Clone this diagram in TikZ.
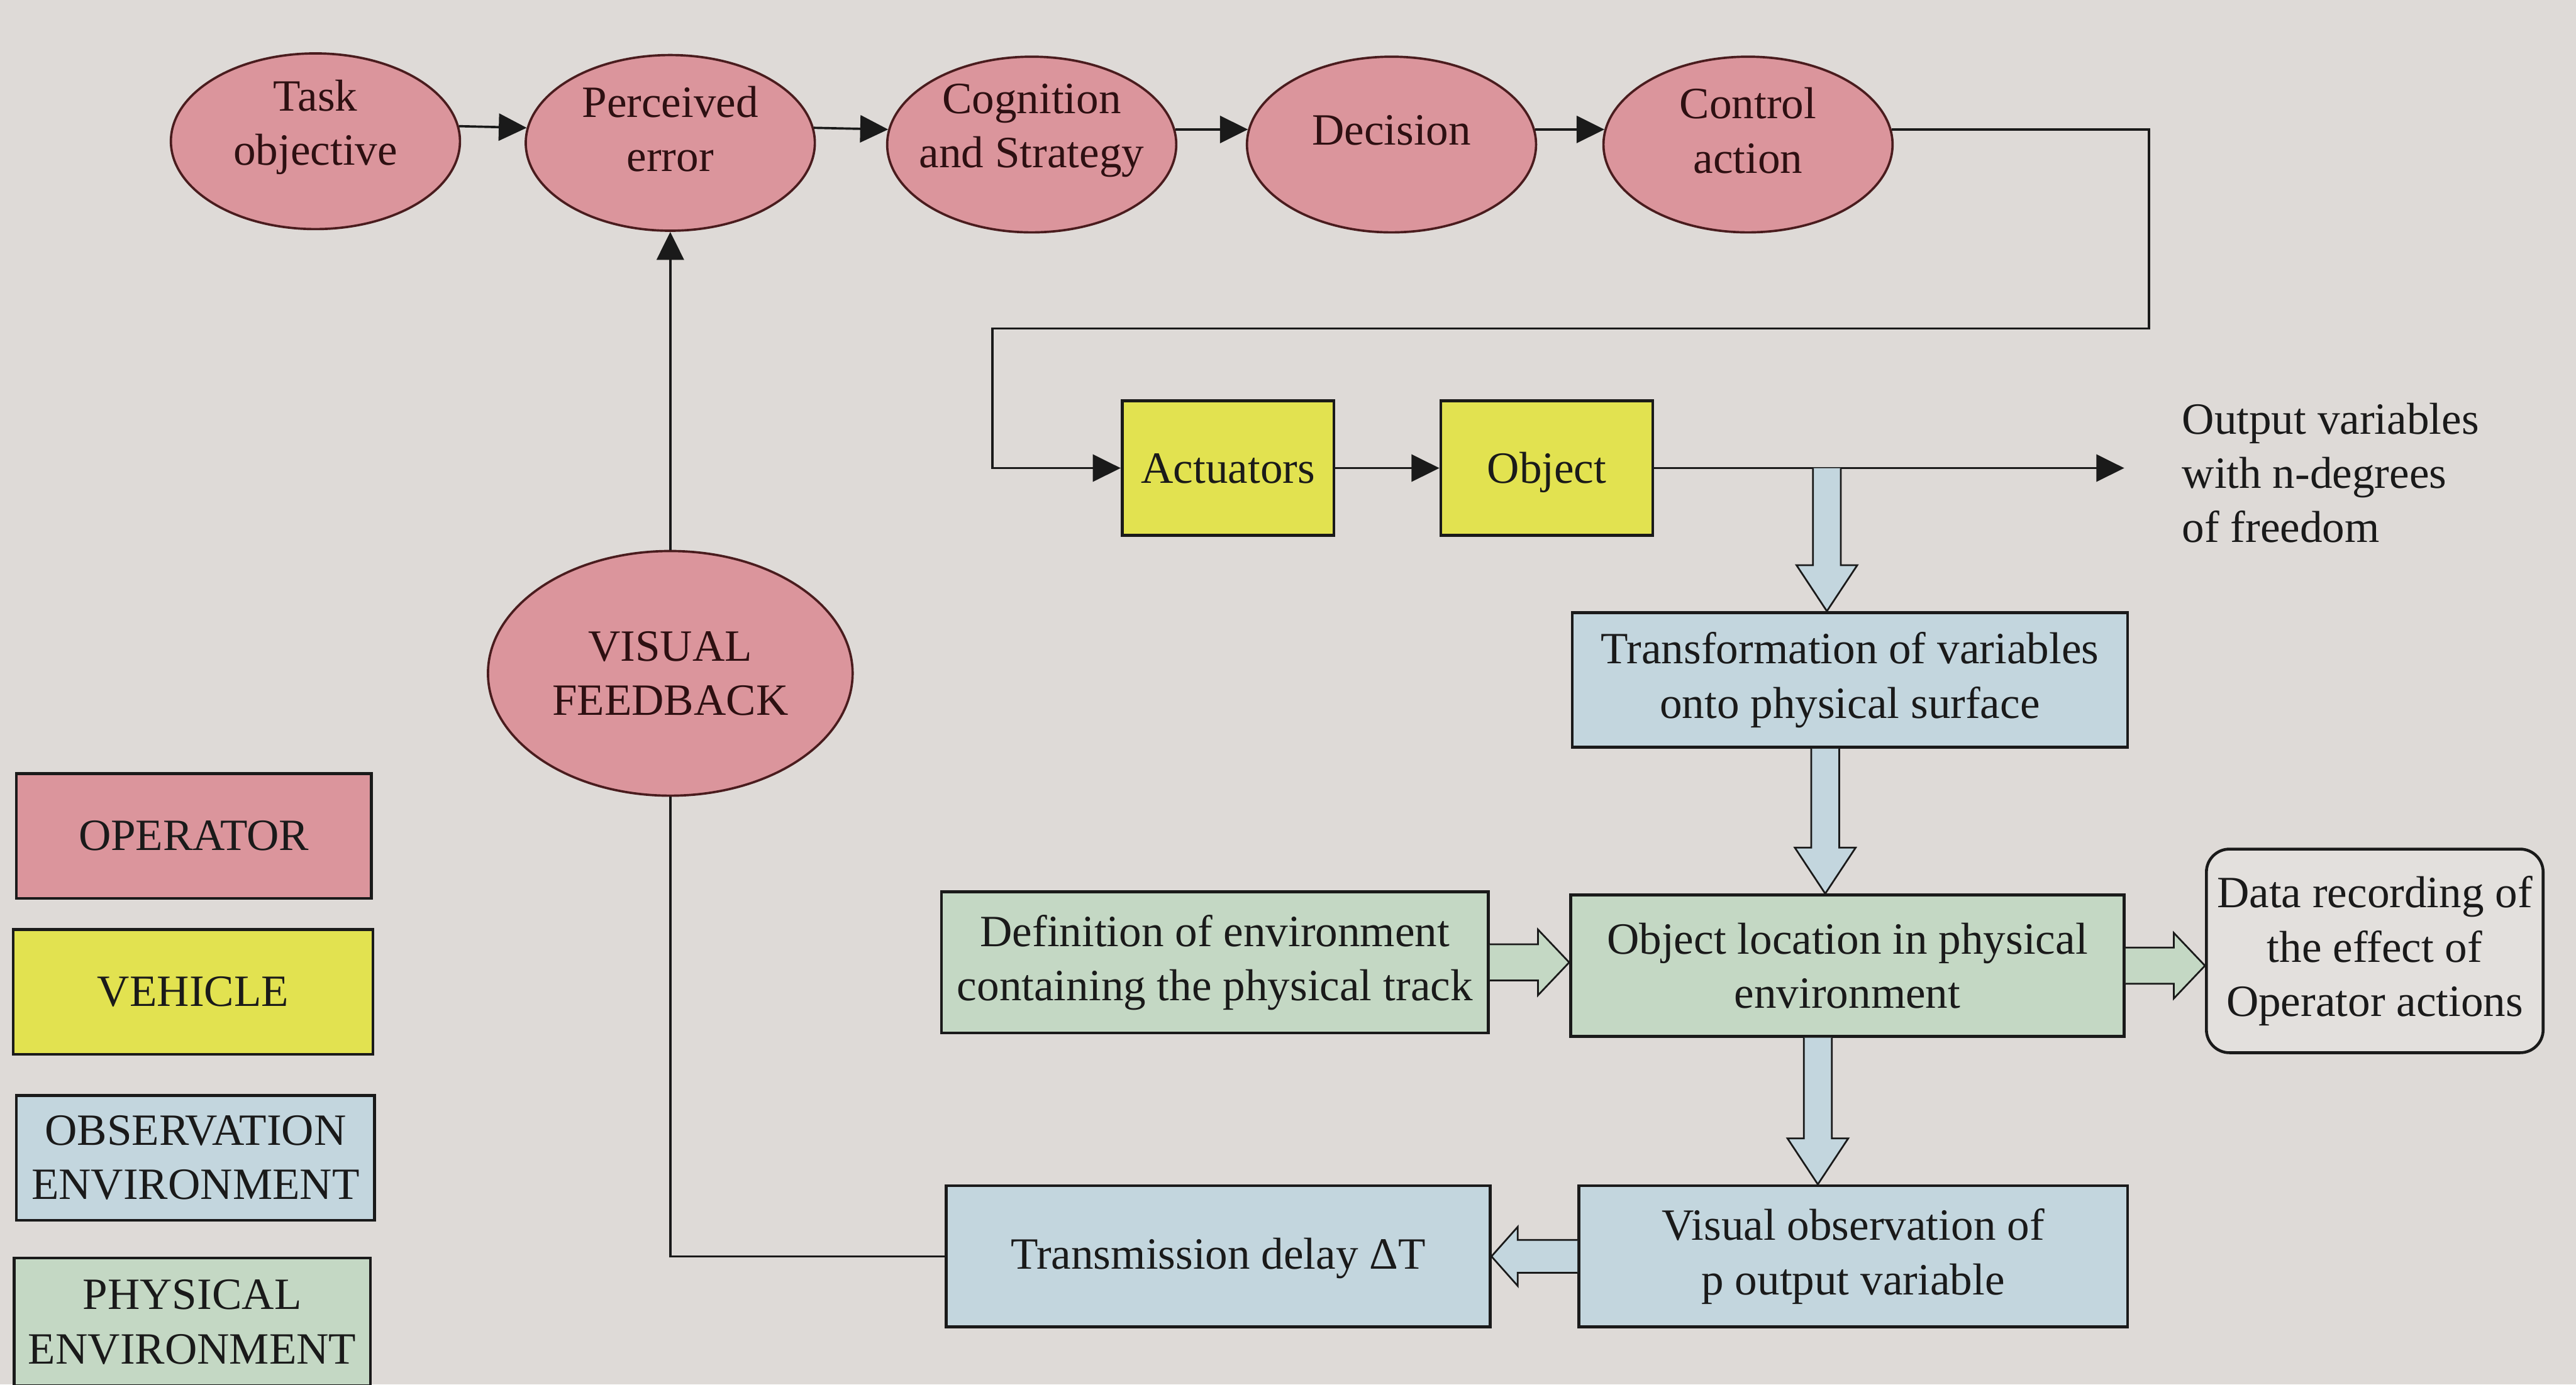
\documentclass[tikz,border=0pt]{standalone}
\usepackage{fontspec}
\setmainfont{Liberation Serif}
\usetikzlibrary{calc,arrows.meta,shapes.geometric}

\definecolor{bg}{HTML}{DEDAD7}
\definecolor{opfill}{HTML}{DB959C}
\definecolor{optext}{HTML}{2E1012}
\definecolor{opedge}{HTML}{4A1C1E}
\definecolor{vehfill}{HTML}{E2E250}
\definecolor{obsfill}{HTML}{C3D6DE}
\definecolor{phyfill}{HTML}{C4D8C4}
\definecolor{recfill}{HTML}{E3E0DD}
\definecolor{ink}{HTML}{1A1A1A}

% block arrows drawn as outlined polygons
\newcommand{\hollowdown}[3]{%
  \draw[hollow,fill=#3] ($(#1)+(-8.5,0)$) -- ($(#2)+(-8.5,-28)$) -- ($(#2)+(-18.5,-28)$)
    -- (#2) -- ($(#2)+(18.5,-28)$) -- ($(#2)+(8.5,-28)$) -- ($(#1)+(8.5,0)$);}
\newcommand{\hollowright}[3]{%
  \draw[hollow,fill=#3] ($(#1)+(0,-11)$) -- ($(#2)+(-19,-11)$) -- ($(#2)+(-19,-20)$)
    -- (#2) -- ($(#2)+(-19,20)$) -- ($(#2)+(-19,11)$) -- ($(#1)+(0,11)$);}
\newcommand{\hollowleft}[3]{%
  \draw[hollow,fill=#3] ($(#1)+(0,-10)$) -- ($(#2)+(16,-10)$) -- ($(#2)+(16,-18)$)
    -- (#2) -- ($(#2)+(16,18)$) -- ($(#2)+(16,10)$) -- ($(#1)+(0,10)$);}

\begin{document}
\begin{tikzpicture}[x=0.02cm,y=-0.02cm,
  font=\fontsize{15.5}{18.8}\selectfont, text=ink,
  opell/.style={ellipse, draw=opedge, line width=0.8pt, fill=opfill, inner sep=0pt,
    minimum width=3.52cm, minimum height=2.14cm, align=center, text=optext},
  optxt/.style={text=optext, align=center, yshift=0.17cm},
  plainbox/.style={rectangle, draw=ink, line width=1pt, inner sep=0pt},
  box/.style={plainbox, align=center},
  onebox/.style={plainbox, text height=1.03em, text depth=0pt},
  legbox/.style={box, minimum width=4.34cm, minimum height=1.52cm},
  vehbox/.style={onebox, fill=vehfill, minimum width=2.58cm, minimum height=1.64cm},
  obsbox/.style={box, fill=obsfill},
  phybox/.style={box, fill=phyfill},
  flow/.style={draw=ink, line width=0.8pt},
  tip/.style={flow, -{Triangle[length=0.34cm,width=0.33cm]}},
  hollow/.style={draw=ink, line width=0.6pt, line join=miter}]

\fill[bg] (0,0) rectangle (1568,843);
\useasboundingbox (0,0) rectangle (1568,843);

% operator chain
\node[opell, label={[optxt]center:{Task\\objective}}] (task) at (192,86) {};
\node[opell, label={[optxt]center:{Perceived\\error}}] (perc) at (408,87) {};
\node[opell, label={[optxt]center:{Cognition\\and Strategy}}] (cogn) at (628,88) {};
\node[opell, label={[optxt]center:{Decision}}] (deci) at (847,88) {};
\node[opell, label={[optxt]center:{Control\\action}}] (ctrl) at (1064,88) {};

\draw[tip] (task.6) -- (perc.174);
\draw[tip] (perc.6) -- (cogn.174);
\draw[tip] (cogn.6) -- (deci.174);
\draw[tip] (deci.6) -- (ctrl.174);

% vehicle
\node[vehbox] (act) at (747.5,285) {Actuators};
\node[vehbox] (obj) at (941.5,285) {Object};

\coordinate (cr) at (1308,200);
\coordinate (cl) at (604,200);
\draw[tip] (ctrl.6) -| (cr) -- (cl) |- (act.west);
\draw[tip] (act.east) -- (obj.west);

\coordinate (outend) at (1293,285);
\draw[tip] (obj.east) -- (outend);
\node[anchor=west, align=left] (outtxt) at (1322,288) {Output variables\\with n-degrees\\of freedom};

% observation and physical environment
\node[obsbox, minimum width=6.76cm, minimum height=1.64cm] (trans) at (1126,414)
  {Transformation of variables\\onto physical surface};
\node[phybox, minimum width=6.74cm, minimum height=1.72cm] (objloc) at (1124.5,588)
  {Object location in physical\\environment};
\node[phybox, minimum width=6.66cm, minimum height=1.72cm] (defn) at (739.5,586)
  {Definition of environment\\containing the physical track};
\node[box, fill=recfill, rounded corners=0.28cm, minimum width=4.1cm, minimum height=2.48cm] (rec) at (1445.5,579)
  {Data recording of\\the effect of\\Operator actions};
\node[obsbox, minimum width=6.68cm, minimum height=1.72cm] (visobs) at (1128,765)
  {Visual observation of\\p output variable};
\node[onebox, fill=obsfill, minimum width=6.62cm, minimum height=1.72cm, text height=0.88em] (transm) at (741.5,765)
  {Transmission delay ΔT};

% visual feedback loop
\node[opell, minimum width=4.44cm, minimum height=2.98cm] (vis) at (408,410) {VISUAL\\FEEDBACK};
\draw[flow] (transm.west) -| (vis.south);
\draw[tip] (vis.north) -- (perc.south);

% block arrows
\coordinate (tap) at (1112,285);
\coordinate (tapend) at (trans.north -| tap);
\hollowdown{tap}{tapend}{obsfill}

\coordinate (t2s) at ($(trans.south)+(-15,0)$);
\coordinate (t2e) at (objloc.north -| t2s);
\hollowdown{t2s}{t2e}{obsfill}

\coordinate (t3s) at ($(objloc.south)+(-18,0)$);
\coordinate (t3e) at (visobs.north -| t3s);
\hollowdown{t3s}{t3e}{obsfill}

\coordinate (d1e) at (objloc.west |- defn.east);
\hollowright{defn.east}{d1e}{phyfill}

\coordinate (r1e) at (rec.west |- objloc.east);
\hollowright{objloc.east}{r1e}{phyfill}

\coordinate (v1e) at (transm.east |- visobs.west);
\hollowleft{visobs.west}{v1e}{obsfill}

% legend
\node[legbox, fill=opfill, minimum width=4.32cm] (lgop) at (118,509) {OPERATOR};
\node[legbox, fill=vehfill, minimum width=4.38cm] (lgveh) at (117.5,604) {VEHICLE};
\node[legbox, fill=obsfill, minimum width=4.36cm] (lgobs) at (119,705) {OBSERVATION\\ENVIRONMENT};
\node[legbox, fill=phyfill, minimum height=1.56cm] (lgphy) at (117,805) {PHYSICAL\\ENVIRONMENT};

\end{tikzpicture}
\end{document}
